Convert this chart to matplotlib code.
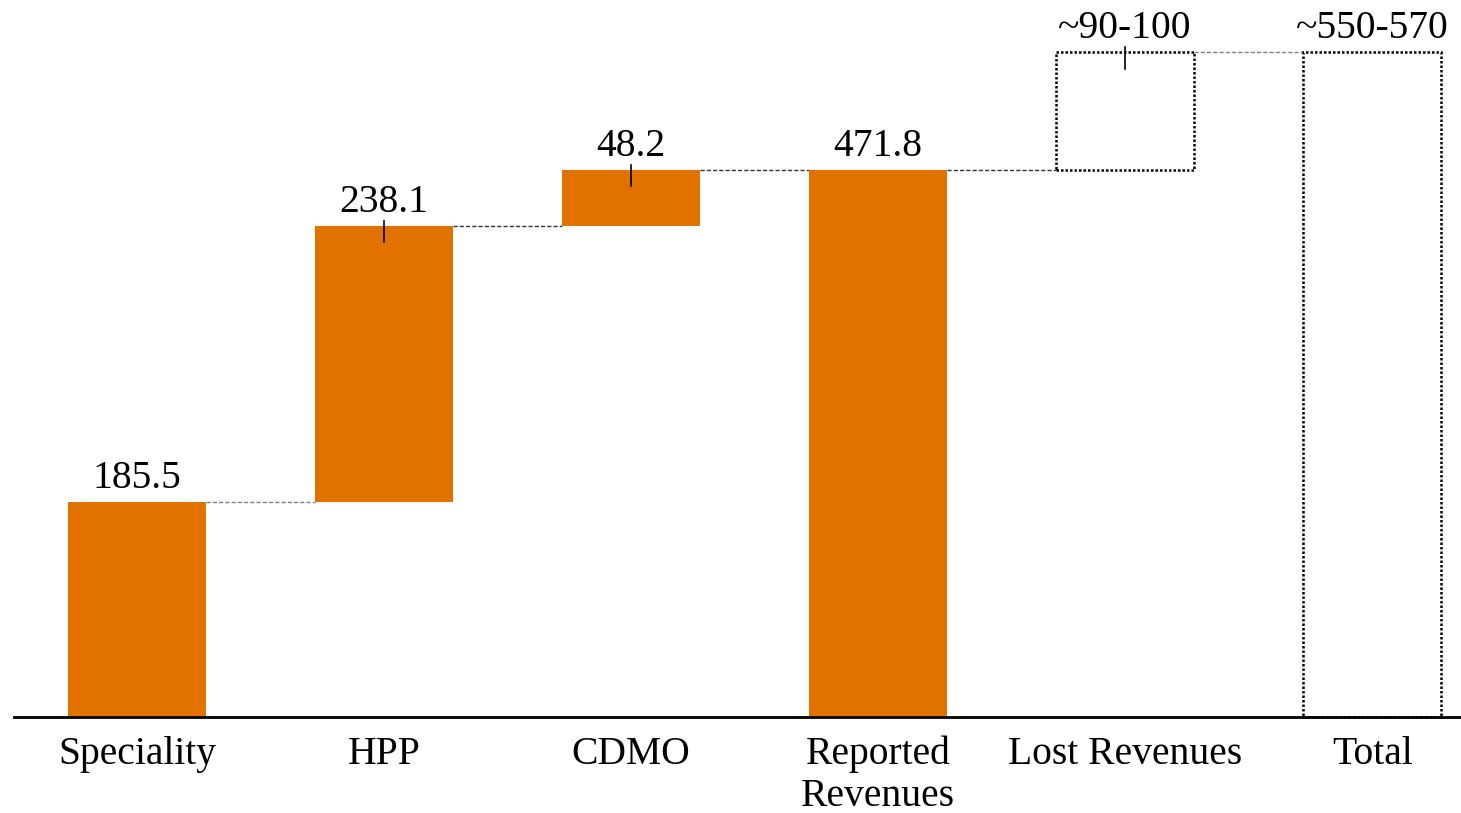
import matplotlib
matplotlib.use("Agg")
import matplotlib.pyplot as plt
from matplotlib.patches import Rectangle

categories = ["Speciality", "HPP", "CDMO", "Reported\nRevenues", "Lost Revenues", "Total"]
increments = [185.5, 238.1, 48.2]
reported = 471.8
estimate_top = 573.5          # top of the dotted estimate boxes
value_labels = ["185.5", "238.1", "48.2", "471.8", "~90-100", "~550-570"]

ORANGE = "#E27200"
FONT = ["Liberation Serif", "DejaVu Serif"]
plt.rcParams["font.family"] = FONT
FS = 28.5

fig = plt.figure(figsize=(14.61, 8.13), dpi=100)
ax = fig.add_axes([14 / 1461, (813 - 717) / 813, 1447 / 1461, 717 / 813])
width = 0.56
ax.set_xlim(-0.498, 5.36)
ax.set_ylim(0, 618.6)

bottoms = []
tops = []
run = 0
for v in increments:
    bottoms.append(run)
    run += v
    tops.append(run)
bottoms.append(0)
tops.append(reported)

for i in range(4):
    ax.bar(i, tops[i] - bottoms[i], bottom=bottoms[i], width=width, color=ORANGE,
           edgecolor="none", zorder=2)

ax.add_patch(Rectangle((4 - width / 2, reported), width, estimate_top - reported, fill=False,
                       edgecolor="black", linestyle=(0, (1, 0.8)), linewidth=1.8, zorder=3))
ax.add_patch(Rectangle((5 - width / 2, 0), width, estimate_top, fill=False,
                       edgecolor="black", linestyle=(0, (1, 0.8)), linewidth=1.8, zorder=3,
                       clip_on=False))

all_tops = tops + [estimate_top, estimate_top]

conn_colors = ["#808080", "#333333", "#333333", "#333333", "#808080"]
for i in range(5):
    y = all_tops[i]
    ax.plot([i + width / 2, i + 1 - width / 2], [y, y], linestyle=(0, (3, 1.5)),
            color=conn_colors[i], linewidth=1, zorder=1)

for i, lab in enumerate(value_labels):
    ax.annotate(lab, (i, all_tops[i]), xytext=(0, 10), textcoords="offset points",
                ha="center", va="baseline", fontsize=FS, color="black", family=FONT)

for i in [1, 2, 4]:
    y = all_tops[i]
    ax.plot([i, i], [y + 4.3, y - 14], color="black", linewidth=1.2, zorder=4)

for s in ["top", "right", "left"]:
    ax.spines[s].set_visible(False)
ax.spines["bottom"].set_linewidth(2)
ax.spines["bottom"].set_color("black")
ax.set_yticks([])
ax.set_xticks(range(6))
ax.set_xticklabels(categories, fontsize=FS, linespacing=1.18)
ax.tick_params(axis="x", length=0, pad=13.5)

fig.savefig("out.png", dpi=100)
